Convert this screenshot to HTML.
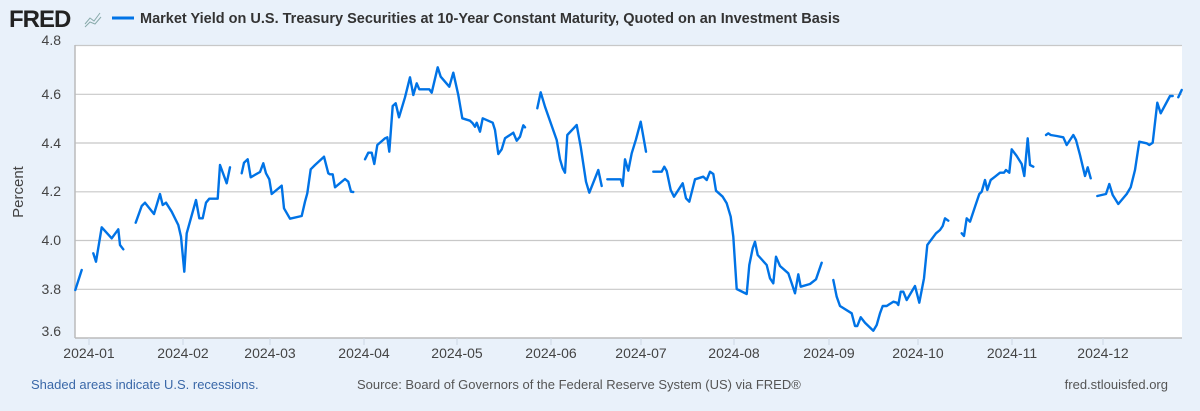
<!DOCTYPE html>
<html><head><meta charset="utf-8"><style>
body{margin:0;width:1200px;height:406px;background:#e9f1fa;font-family:"Liberation Sans",sans-serif;overflow:hidden}
</style></head><body>
<svg width="1200" height="406" xmlns="http://www.w3.org/2000/svg" font-family="Liberation Sans, sans-serif">
<rect x="0" y="0" width="1200" height="406" fill="#e9f1fa"/>
<text x="9" y="27" font-size="24" font-weight="bold" fill="#222" letter-spacing="-1">FRED</text>
<g stroke="#8aa" stroke-width="1" fill="none"><polyline points="85,24 90,18 94,21 100,13"/><polyline points="85,27 90,22 95,24 101,17"/></g>
<line x1="112" y1="18" x2="134" y2="18" stroke="#0073e6" stroke-width="3"/>
<text x="140" y="23" font-size="14.5" font-weight="bold" fill="#333">Market Yield on U.S. Treasury Securities at 10-Year Constant Maturity, Quoted on an Investment Basis</text>
<rect x="75" y="45" width="1107" height="293" fill="#fff"/>
<g stroke="#c8c8c8" stroke-width="1.2">
<line x1="75" y1="45.5" x2="1182" y2="45.5"/><line x1="75" y1="94.3" x2="1182" y2="94.3"/><line x1="75" y1="143" x2="1182" y2="143"/><line x1="75" y1="191.8" x2="1182" y2="191.8"/><line x1="75" y1="240.5" x2="1182" y2="240.5"/><line x1="75" y1="289.3" x2="1182" y2="289.3"/>
</g>
<line x1="75" y1="45" x2="75" y2="338" stroke="#bbb" stroke-width="1.5"/>
<line x1="75" y1="338" x2="1182" y2="338" stroke="#bbb" stroke-width="1.5"/>
<g stroke="#cdd8e4" stroke-width="1">
<line x1="89" y1="338" x2="89" y2="345"/><line x1="183" y1="338" x2="183" y2="345"/><line x1="270" y1="338" x2="270" y2="345"/><line x1="364" y1="338" x2="364" y2="345"/><line x1="457" y1="338" x2="457" y2="345"/><line x1="551" y1="338" x2="551" y2="345"/><line x1="641" y1="338" x2="641" y2="345"/><line x1="734" y1="338" x2="734" y2="345"/><line x1="829" y1="338" x2="829" y2="345"/><line x1="918" y1="338" x2="918" y2="345"/><line x1="1012" y1="338" x2="1012" y2="345"/><line x1="1103" y1="338" x2="1103" y2="345"/>
</g>
<g font-size="14" fill="#444" text-anchor="end">
<text x="61" y="45">4.8</text><text x="61" y="99">4.6</text><text x="61" y="148">4.4</text><text x="61" y="196">4.2</text><text x="61" y="245">4.0</text><text x="61" y="294">3.8</text><text x="61" y="336">3.6</text>
</g>
<text transform="translate(23,192) rotate(-90)" font-size="15" fill="#444" text-anchor="middle">Percent</text>
<g font-size="14" fill="#444" text-anchor="middle">
<text x="89" y="358">2024-01</text><text x="183" y="358">2024-02</text><text x="270" y="358">2024-03</text><text x="364" y="358">2024-04</text><text x="457" y="358">2024-05</text><text x="551" y="358">2024-06</text><text x="641" y="358">2024-07</text><text x="734" y="358">2024-08</text><text x="829" y="358">2024-09</text><text x="918" y="358">2024-10</text><text x="1012" y="358">2024-11</text><text x="1103" y="358">2024-12</text>
</g>
<g fill="none" stroke="#0073e6" stroke-width="2.4" stroke-linejoin="round" stroke-linecap="round">
<polyline points="75.3,290 81.7,270"/>
<polyline points="93.3,253.3 96,261.7 101.7,227.3 111.7,238.3 118.3,229.3 120,245 123.3,249.3"/>
<polyline points="135.7,222.7 141.7,206 145,202.7 154,214 160,194 162.7,205 166,202.7 171.7,211.7 178.3,225 181,236.7 184.3,271.7 186.7,233.3 196,200 199.3,218.3 202.7,218.3 206,202.7 209.3,198.7 217.7,198.7 220,165 226.7,183.3 230,167.3"/>
<polyline points="241.7,173.3 244,162.7 247.7,159.3 250.7,177.3 260,172 263.3,163.3 266,173.3 269.3,179.3 271.7,194 281.7,185.7 284,208.3 290,218.7 301.7,216 305,201.7 307.3,193.3 310.7,169.3 315,165 324,156.7 328.3,173.3 330,174.3 332.7,174.3 335,187.3 345,179 348.3,181.7 351,191.7 353.3,192"/>
<polyline points="365,159.3 368.3,152.7 371.7,152.7 374.3,164 377.3,145 385,138.3 387.3,137.3 389.3,151.7 392.7,106 395.7,103.3 399,117.3 405,97.3 410,77.3 413.3,95 416.7,83.3 419.3,89.3 429.3,89.3 431.7,92.7 437.7,67.3 440.7,76.7 449.3,86.7 453.3,72.7 458.3,95 462.3,118.3 470,120.7 472.7,123.3 475,126.7 476.7,122.7 480,131.7 482.7,118.3 492.7,122.7 495,130 498.3,154 501.7,149.3 505,138.3 513.3,132.7 516.7,140.7 520,136.7 523.3,125.3 525,127.3"/>
<polyline points="537.3,108.3 540.7,92.3 545,106.7 556.7,140 560,159.3 562.7,168.3 565,172.7 567.3,135 576.7,125 580.7,146.7 586,181.7 589.3,192.7 598.3,170 601.7,186"/>
<polyline points="607.3,179.3 620.7,179.3 622.7,186 625,159.3 628.3,170.7 631.7,153.3 636,139.3 640.7,121.7 646,151.7"/>
<polyline points="653.3,171.7 661.7,171.7 664.3,166.7 666.7,171 670.7,190 674,196.7 682.7,183.3 686,198.3 689.3,201.7 695,179.3 703.3,176.7 706.7,180 710,171.7 713.3,174 716,190.7 722.7,196.7 726.7,203.3 730.7,216.7 733.3,236.7 736.7,289 746.7,294 749.3,265 752.7,248.3 755,241.7 757.7,255 766.7,265 770,278.3 773.3,283.3 776,256.7 780,266 788.3,273.3 791.7,283.3 795,293.3 798.3,274.3 800.7,286.7 810,284 816,279.3 821.7,262.7"/>
<polyline points="833.3,280 836.7,296.7 840,306 851.7,313.3 855,326 857.3,326 860.7,317.3 865,322.7 873.3,330.7 876.7,325 880,313.3 882.7,306 886.7,306 893.3,301.7 896.7,302.7 898.3,305 900.7,291.7 903.3,291.7 906.7,300 915,286 919.3,302.7 924,278.3 927.3,245 936,233.3 940,230 942.7,226 945,218.3 948.3,220.7"/>
<polyline points="961.7,233.3 964,236 966.7,218.3 970,221.7 975,206.7 979.3,194 981.7,191.7 985,180 987.3,190 990.7,180 995,176.7 1000,172.7 1004,172.7 1006,170 1009.3,172.7 1011.7,149.3 1016.7,156 1021.7,164 1024.3,176 1027.7,138.3 1030,165 1033.3,166.7"/>
<polyline points="1046,135 1048.3,133.3 1050.7,135 1056.7,136 1063.3,137.3 1066.7,145 1073.3,135 1076,140 1080,155 1085,176 1087.7,167.3 1090.7,178.3"/>
<polyline points="1097.3,196 1106,194 1109.3,184 1112.7,195 1118.3,204 1126.7,194 1130.7,187.3 1135,170 1139.3,141.7 1146.7,143.3 1149.3,145 1152.7,142.7 1157.3,102.7 1160.7,113.3 1170,96 1172.7,96"/>
<polyline points="1178.3,97.3 1181.7,90"/>
</g>
<text x="31" y="389" font-size="13" fill="#3a68a8">Shaded areas indicate U.S. recessions.</text>
<text x="357" y="389" font-size="13" fill="#555">Source: Board of Governors of the Federal Reserve System (US) via FRED®</text>
<text x="1168" y="389" font-size="13" fill="#555" text-anchor="end">fred.stlouisfed.org</text>
</svg>
</body></html>
